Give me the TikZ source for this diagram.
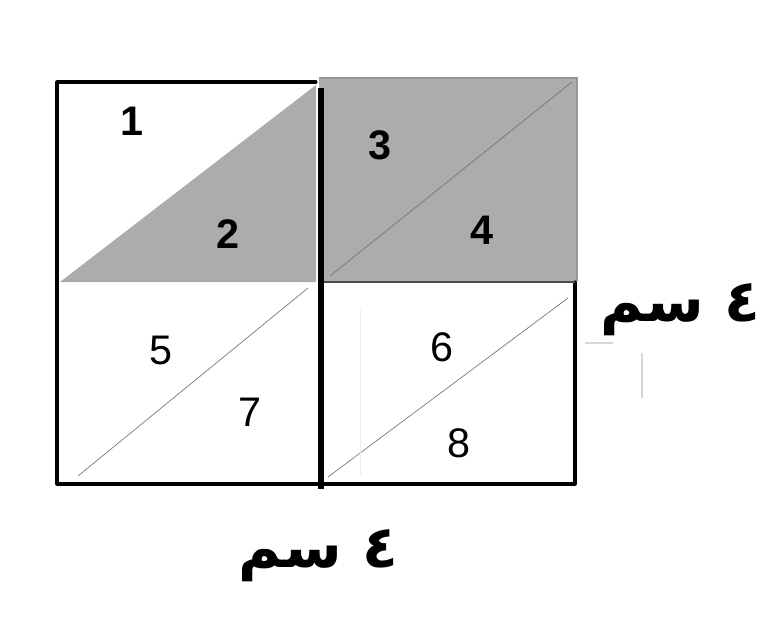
\documentclass[tikz,border=0pt]{standalone}
\usepackage{fontspec}
\setmainfont{Liberation Sans}
\newfontfamily\arabicfont[Script=Arabic]{DejaVu Sans}
\TeXXeTstate=1
\definecolor{greyfill}{RGB}{172,172,172}
\definecolor{greyedge}{RGB}{150,150,150}
\definecolor{diagc}{RGB}{110,115,125}
\definecolor{faintc}{RGB}{215,215,215}
\definecolor{fainterc}{RGB}{235,235,235}
\begin{document}
\begin{tikzpicture}[x=0.75pt,y=-0.75pt,
  frame/.style={line width=2.3pt,line cap=round,line join=round},
  diag/.style={line width=0.5pt,draw=diagc},
  num/.style={font=\fontsize{31}{31}\selectfont,inner sep=0pt},
  numb/.style={font=\fontsize{31}{31}\selectfont\bfseries,inner sep=0pt},
  cmlab/.style={font=\arabicfont\fontsize{44}{44}\selectfont\bfseries,inner sep=0pt}]
\useasboundingbox (0,0) rectangle (772,636);
% grey regions
\fill[greyfill] (319,78) rectangle (577,281);
\draw[line width=0.8pt,greyedge] (319,78) -- (577,78) -- (577,281);
\fill[greyfill] (60,282) -- (316,85) -- (316,282) -- cycle;
% diagonals
\draw[diag] (330,276) -- (572,82);
\draw[diag] (78,476) -- (308,288);
\draw[diag] (328,477) -- (568,298);
% outlines
\draw[frame] (316,82) -- (57,82) -- (57,484) -- (575,484) -- (575,282);
\draw[line width=2pt,black!70] (575,282) -- (323,282);
\draw[line width=4.2pt] (321,88) -- (321,489);
% faint marks
\draw[faintc,line width=0.8pt] (585,343) -- (613,343);
\draw[faintc,line width=0.8pt] (642,353) -- (642,398);
\draw[fainterc,line width=0.6pt] (360,310) -- (360,475);
% labels
\node[numb] (n1) at (132,121) {1};
\node[numb] (n2) at (228,234) {2};
\node[numb] (n3) at (380,145) {3};
\node[numb] (n4) at (482,230) {4};
\node[num] (n5) at (161,350) {5};
\node[num] (n7) at (250,412) {7};
\node[num] (n6) at (442,347) {6};
\node[num] (n8) at (459,443) {8};
\node[cmlab] (cmr) at (680,310) {\beginR ٤ سم\endR};
\node[cmlab] (cmb) at (318,556) {\beginR ٤ سم\endR};
\end{tikzpicture}
\end{document}
